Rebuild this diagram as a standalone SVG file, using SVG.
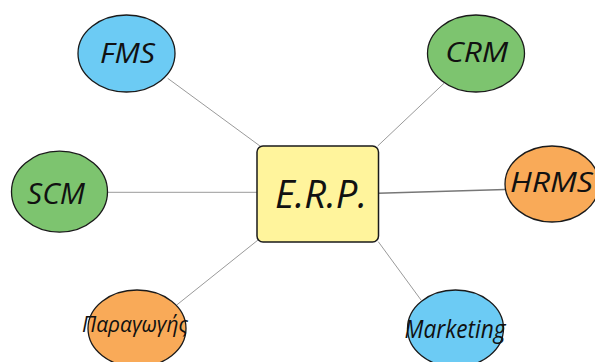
<svg xmlns="http://www.w3.org/2000/svg" width="595" height="362" viewBox="0 0 595 362">
<style>
.n{stroke:#1a1a1a;stroke-width:1.3}
.blue{fill:#6ccbf4}
.green{fill:#7dc46f}
.orange{fill:#f9aa58}
.box{fill:#fff49c;stroke:#1a1a1a;stroke-width:1.5}
.t{font-family:"Open Sans","Liberation Sans",sans-serif;font-style:italic;fill:#111;text-anchor:middle}
.c{stroke:#9a9a9a;stroke-width:1;fill:none}
</style>
<rect width="595" height="362" fill="#fff"/>
<g id="connectors">
<line class="c" x1="167.7" y1="78.3" x2="260" y2="146"/>
<line class="c" x1="444" y1="83.3" x2="377.7" y2="146"/>
<line class="c" x1="107.5" y1="192.3" x2="257" y2="192.3"/>
<line class="c" x1="378" y1="193.3" x2="505.5" y2="189.5" style="stroke:#777;stroke-width:1.4"/>
<line class="c" x1="176.7" y1="305" x2="258" y2="240"/>
<line class="c" x1="378.3" y1="241.7" x2="421" y2="300"/>
</g>
<g id="erp">
<rect class="box" x="257" y="146" width="121.5" height="96" rx="6"/>
<text class="t" x="321" y="208" font-size="38" textLength="92" lengthAdjust="spacingAndGlyphs">E.R.P.</text>
</g>
<g id="fms">
<ellipse class="n blue" cx="126.5" cy="53.5" rx="48.5" ry="38.5"/>
<text class="t" x="127.5" y="63" font-size="28" textLength="55" lengthAdjust="spacingAndGlyphs">FMS</text>
</g>
<g id="crm">
<ellipse class="n green" cx="476" cy="53.5" rx="48.5" ry="38.5"/>
<text class="t" x="476.7" y="62" font-size="28" textLength="63" lengthAdjust="spacingAndGlyphs">CRM</text>
</g>
<g id="scm">
<ellipse class="n green" cx="59.5" cy="191.7" rx="48" ry="40.5"/>
<text class="t" x="56" y="204" font-size="30" textLength="58" lengthAdjust="spacingAndGlyphs">SCM</text>
</g>
<g id="hrms">
<ellipse class="n orange" cx="552" cy="184" rx="47" ry="38"/>
<text class="t" x="551.5" y="192" font-size="27" textLength="83" lengthAdjust="spacingAndGlyphs">HRMS</text>
</g>
<g id="paragogis">
<ellipse class="n orange" cx="137" cy="328.5" rx="49" ry="38.5"/>
<text class="t" x="135" y="332" font-size="21" textLength="106" lengthAdjust="spacingAndGlyphs">Παραγωγής</text>
</g>
<g id="marketing">
<ellipse class="n blue" cx="455.5" cy="328.5" rx="48" ry="38.5"/>
<text class="t" x="455" y="338" font-size="26" textLength="101" lengthAdjust="spacingAndGlyphs">Marketing</text>
</g>
</svg>
